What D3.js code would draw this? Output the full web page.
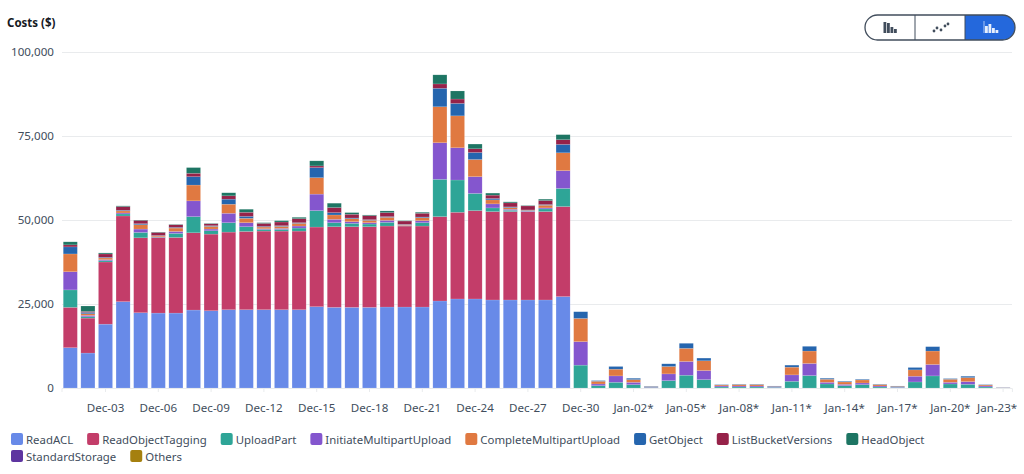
<!DOCTYPE html>
<html><head><meta charset="utf-8">
<script src="https://cdn.jsdelivr.net/npm/d3@7"></script>
<style>
html,body{margin:0;padding:0;background:#fff;overflow:hidden}
text{font-family:"Noto Sans","Open Sans",sans-serif}
</style></head><body><svg id="c" width="1024" height="474"></svg>
<script>
const dayLabels=["Dec-01","Dec-02","Dec-03","Dec-04","Dec-05","Dec-06","Dec-07","Dec-08","Dec-09","Dec-10","Dec-11","Dec-12","Dec-13","Dec-14","Dec-15","Dec-16","Dec-17","Dec-18","Dec-19","Dec-20","Dec-21","Dec-22","Dec-23","Dec-24","Dec-25","Dec-26","Dec-27","Dec-28","Dec-29","Dec-30","Dec-31","Jan-01*","Jan-02*","Jan-03*","Jan-04*","Jan-05*","Jan-06*","Jan-07*","Jan-08*","Jan-09*","Jan-10*","Jan-11*","Jan-12*","Jan-13*","Jan-14*","Jan-15*","Jan-16*","Jan-17*","Jan-18*","Jan-19*","Jan-20*","Jan-21*","Jan-22*","Jan-23*"];
const tickLabels=["Dec-03","Dec-06","Dec-09","Dec-12","Dec-15","Dec-18","Dec-21","Dec-24","Dec-27","Dec-30","Jan-02*","Jan-05*","Jan-08*","Jan-11*","Jan-14*","Jan-17*","Jan-20*","Jan-23*"];
const yTicks=[0,25000,50000,75000,100000];
const seriesNames=["ReadACL","ReadObjectTagging","UploadPart","InitiateMultipartUpload","CompleteMultipartUpload","GetObject","ListBucketVersions","HeadObject","StandardStorage","Others"];
const seriesColors=["#688ae8","#c33d69","#2ea597","#8456ce","#e07941","#2565ae","#962249","#1d7563","#5e35a0","#a5800f"];
const readACL=[12000,10400,19000,25700,22400,22300,22300,23200,23000,23300,23300,23300,23300,23300,24200,24000,24000,24000,24100,24100,24100,25900,26500,26500,26200,26200,26200,26200,27200,0,0,0,0,0,0,0,0,0,0,0,0,0,0,0,0,0,0,0,0,0,0,0,0,0];
const readObjectTagging=[12000,10400,18500,25500,22300,22500,22500,23000,22800,23100,23300,23400,23400,23400,23700,24000,24000,24000,24100,24100,24100,25100,25800,26300,26300,26300,26300,26300,26800,0,0,0,0,0,0,0,0,0,0,0,0,0,0,0,0,0,0,0,0,0,0,0,0,0];
const uploadPart=[5200,400,400,600,1600,100,1200,4800,1000,2800,1400,500,500,900,4900,1200,1000,800,1100,100,1000,11100,9600,5100,1100,400,100,800,5400,6800,700,1700,1000,200,2200,3800,2500,300,300,300,200,2000,3700,1200,700,1000,300,200,1800,3600,1200,1100,300,20];
const initiateMultipartUpload=[5400,400,300,300,1000,100,600,4700,500,2800,1200,200,300,600,4900,1000,500,400,600,100,600,10900,9600,5000,1200,300,100,300,5300,7000,500,1900,700,100,2000,4100,2700,300,300,300,200,1900,3600,500,400,500,300,100,1700,3400,500,800,300,10];
const completeMultipartUpload=[5300,500,500,600,1300,300,1000,4700,800,2700,1300,500,600,800,4900,1300,900,700,900,200,900,10700,9500,5100,1200,500,200,800,5300,6900,800,2000,800,100,2200,3900,2900,300,400,400,100,2300,3700,900,700,900,400,200,1900,4000,900,1200,300,10];
const getObject=[2100,400,200,200,300,100,200,2500,200,1500,600,200,200,200,3000,700,200,200,200,100,200,5500,3700,2100,400,200,100,200,2500,2000,200,800,400,100,800,1500,800,100,100,100,100,600,1400,300,200,200,100,100,700,1300,200,400,100,10];
const listBucketVersions=[600,300,1000,1100,1000,900,800,1000,600,1000,1200,900,1100,1200,500,1500,1100,1200,1200,1000,1100,1300,1300,1100,1000,1200,1200,1200,1400,0,0,0,0,0,0,0,0,0,0,0,0,0,0,0,0,0,0,0,0,0,0,0,0,0];
const headObject=[900,1600,300,200,100,100,100,1700,100,900,900,200,400,400,1500,1300,500,200,500,100,300,2700,2400,1400,600,300,100,400,1500,0,0,0,0,0,0,0,0,0,0,0,0,0,0,0,0,0,0,0,0,0,0,0,0,0];
const standardStorage=dayLabels.map(()=>0);
const others=dayLabels.map(()=>0);
const allSeries=[readACL,readObjectTagging,uploadPart,initiateMultipartUpload,completeMultipartUpload,getObject,listBucketVersions,headObject,standardStorage,others];

const svg=d3.select("#c");
const rows=dayLabels.map((d,i)=>{const r={day:d};seriesNames.forEach((n,k)=>r[n]=allSeries[k][i]);return r;});
const stacked=d3.stack().keys(seriesNames)(rows);
const x=d3.scaleBand().domain(dayLabels).range([61.5,1011.9]).paddingInner(0.2).paddingOuter(0.1);
const y=d3.scaleLinear().domain([0,100000]).range([388,52]);
const color=d3.scaleOrdinal(seriesNames,seriesColors);
const ink="#414d5c";

svg.append("text").attr("x",7).attr("y",26.5).attr("font-size",11.5).attr("font-weight",700).attr("fill","#16191f").text("Costs ($)");

const gy=svg.append("g").attr("transform","translate(62,0)")
 .call(d3.axisLeft(y).tickValues(yTicks).tickFormat(d3.format(",")).tickSize(-950).tickPadding(8));
gy.select(".domain").remove();
gy.selectAll("line").attr("stroke","#e9ebed");
gy.selectAll("text").attr("font-size",11.6).attr("fill",ink);

const gBars=svg.append("g").selectAll("g").data(stacked).join("g").attr("fill",d=>color(d.key));
gBars.selectAll("rect").data(d=>d.filter(s=>s[1]>s[0]).map(s=>({s}))).join("rect")
 .attr("x",d=>x(d.s.data.day)).attr("width",x.bandwidth())
 .attr("y",d=>y(d.s[1])).attr("height",d=>Math.max(0.4,y(d.s[0])-y(d.s[1])))
 .attr("stroke","#fff").attr("stroke-opacity",0.25).attr("stroke-width",0.5);

const gx=svg.append("g").attr("transform","translate(0,388)")
 .call(d3.axisBottom(x).tickValues(dayLabels.filter(d=>tickLabels.includes(d))).tickSize(4).tickPadding(12));
gx.select(".domain").attr("stroke","#e9ebed");
gx.selectAll("line").attr("stroke","#e9ebed");
gx.selectAll("text").attr("font-size",11.6).attr("fill",ink);
/* the last tick label is pulled in so that it stays inside the page */
gx.selectAll(".tick text").filter(d=>d===tickLabels[tickLabels.length-1]).attr("dx",-6);

/* legend: flows over two rows, measured from the text */
const legend=svg.append("g");
let lx=11,ly=439;
seriesNames.forEach(n=>{
  const g=legend.append("g");
  g.append("rect").attr("width",12).attr("height",12).attr("rx",2).attr("fill",color(n));
  const t=g.append("text").attr("x",15).attr("y",10.5).attr("font-size",11.4).attr("fill",ink).text(n);
  const w=t.node().getComputedTextLength();
  if(lx+15+w>960){lx=11;ly+=17;}
  g.attr("transform",`translate(${lx},${ly-6})`);
  lx+=15+w+14;
});

/* chart type toggle */
const tg=svg.append("g");
const clip=svg.append("clipPath").attr("id","tc");
clip.append("rect").attr("x",865).attr("y",15).attr("width",150).attr("height",25).attr("rx",12.5);
tg.append("rect").attr("x",965).attr("y",15).attr("width",50).attr("height",25).attr("fill","#2468dc").attr("clip-path","url(#tc)");
tg.append("rect").attr("x",865).attr("y",15).attr("width",150).attr("height",25).attr("rx",12.5).attr("fill","none").attr("stroke","#414d5c").attr("stroke-width",1.3);
[915,965].forEach(v=>tg.append("line").attr("x1",v).attr("x2",v).attr("y1",15).attr("y2",40).attr("stroke","#414d5c").attr("stroke-width",1));
const iconH=[11,10,6,4];
iconH.forEach((h,i)=>tg.append("rect").attr("x",883.5+i*3.5).attr("y",33-h).attr("width",2.8).attr("height",h).attr("fill","#414d5c"));
[[934,31],[937,28],[941,30],[945,26],[948,24]].forEach(p=>tg.append("circle").attr("cx",p[0]).attr("cy",p[1]).attr("r",1.4).attr("fill","#414d5c"));
tg.append("line").attr("x1",984).attr("x2",984).attr("y1",21).attr("y2",33).attr("stroke","#cfe0fb").attr("stroke-width",.8);
[[985,7],[988.5,9],[992,5],[995.5,3]].forEach(p=>tg.append("rect").attr("x",p[0]).attr("y",33-p[1]).attr("width",2.8).attr("height",p[1]).attr("fill","#e6effd"));
</script></body></html>
